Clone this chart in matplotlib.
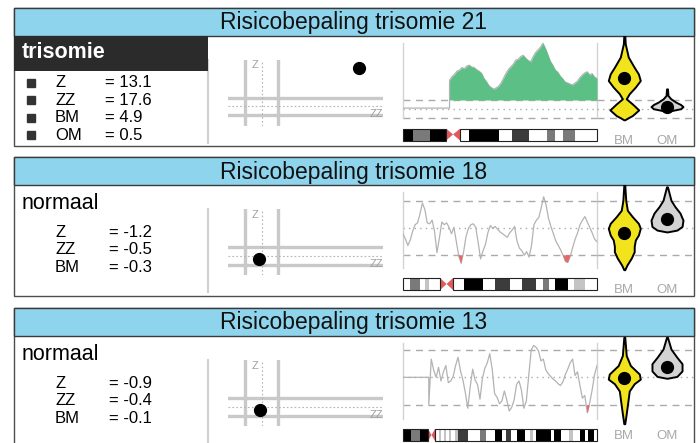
import numpy as np
import matplotlib
matplotlib.use("Agg")
import matplotlib.pyplot as plt
from matplotlib.patches import Rectangle, Polygon

plt.rcParams['font.family'] = ['Liberation Sans', 'DejaVu Sans']

W, H = 700, 443

# ---- data ----
TITLES = ["Risicobepaling trisomie 21", "Risicobepaling trisomie 18", "Risicobepaling trisomie 13"]
VERDICTS = ["trisomie", "normaal", "normaal"]
Z_SCORES = [13.1, -1.2, -0.9]
ZZ_SCORES = [17.6, -0.5, -0.4]
BM_SCORES = [4.9, -0.3, -0.1]
OM_SCORES = [0.5, None, None]

# normalised coverage trace per chromosome (position in % of chromosome)
T21_START, T21_FLAT = 24.0, 0.3
T21_VALUES = [9.6, 10.8, 11.5, 12.6, 12.9, 13.8, 13.4, 14.3, 14.6, 14.0, 13.8, 13.1,
              12.6, 11.9, 10.2, 9.1, 7.8, 7.1, 6.6, 7.0, 7.6, 8.7, 10.3, 11.9, 13.2,
              14.1, 15.0, 16.3, 16.6, 17.5, 17.9, 16.9, 16.2, 15.7, 17.4, 18.8, 19.7,
              20.6, 21.9, 20.2, 18.1, 15.9, 14.6, 13.0, 12.3, 11.0, 10.1, 9.0, 8.7,
              8.3, 8.0, 8.6, 9.2, 10.4, 11.3, 12.0, 12.4, 11.3, 11.8, 10.6, 10.2]
T18_START, T18_FLAT = 0.0, None
T18_VALUES = [-0.6, -1.2, -1.9, -1.3, -0.3, 0.4, 0.6, 1.6, 2.8, 2.1, 0.6, 0.5, 0.9,
              -0.3, -2.7, -1.1, 0.7, 0.4, 0.6, 0.1, -0.6, 0.1, -1.5, -3.1, -3.9, -2.6,
              -0.9, 0.0, 0.4, 0.5, 0.1, -1.6, -3.4, -2.5, -1.8, -0.5, 0.3, 0.0, 0.2,
              -0.1, -0.4, -0.6, -0.8, -1.0, -0.5, -0.2, 0.2, -1.4, -2.2, -2.5, -3.0,
              -2.6, -3.2, -1.9, 0.4, 0.9, 1.2, 2.3, 3.5, 2.6, 1.1, 0.2, -0.6, -1.4,
              -1.9, -2.4, -3.0, -3.7, -3.8, -3.1, -2.1, -1.2, -0.5, 0.4, 0.9, 1.3,
              0.7, 0.1, -0.5, -1.2, -1.5]
T13_START, T13_FLAT = 13.3, 0.0
T13_VALUES = [-3.0, 2.0, 0.8, 0.0, 1.1, -0.4, 0.6, 1.3, -0.6, -0.4, 0.1, 1.3, 2.2,
              0.7, -0.3, -1.7, -3.4, -1.0, 0.9, -0.3, -0.8, -2.4, -0.1, 1.0, 1.6, 2.6,
              0.9, -1.8, -2.2, -2.9, -2.6, -1.5, -2.5, -3.7, -3.3, -2.5, -0.8, -0.4,
              -1.4, -3.4, -2.6, 0.2, 3.0, 3.5, 3.3, 2.9, 1.8, 2.0, 0.8, 0.4, 0.1,
              -0.2, -0.4, -0.7, -0.9, -0.5, 0.3, 0.9, 1.6, 2.0, 0.2, 0.6, -0.9, -2.3,
              -2.0, -3.9, -2.8, -1.4, 0.3, 1.3]
# regions called as gain (green) or loss (red)
T21_GAINED, T21_LOST = [(24, 100)], []
T18_GAINED, T18_LOST = [], [(27, 33), (82, 88)]
T13_GAINED, T13_LOST = [], [(93, 97)]

# ideogram bands (edges in % of chromosome, stain per band)
IDEO21_EDGES = [0, 5.2, 13.9, 22.2, 29.4, 34, 49.5, 56.2, 65, 74.2, 78.4, 82.5, 88.7, 100]
IDEO21_STAIN = ["gpos100", "gpos50", "gpos100", "acen", "gneg", "gpos100", "gneg",
                "gpos75", "gneg", "gpos50", "gneg", "gpos50", "gneg"]
IDEO18_EDGES = [0, 3.6, 8.8, 11.3, 13.4, 19.1, 25.8, 31.4, 41.2, 47.4, 55.2, 61.3,
                68.6, 72.2, 75.3, 78.4, 85.1, 88.1, 93.8, 100]
IDEO18_STAIN = ["gneg", "gpos50", "gneg", "gpos25", "gneg", "acen", "gneg", "gpos100",
                "gneg", "gpos75", "gneg", "gpos75", "gneg", "gpos50", "gneg", "gpos100",
                "gneg", "gpos25", "gneg"]
IDEO13_EDGES = [0, 4.1, 8.8, 12.9, 16.5, 18.6, 19.6, 21.1, 22.2, 23.7, 24.7, 26.8, 28.4,
                33.5, 39.7, 42.8, 47.4, 51, 53.1, 55.7, 58.8, 62.9, 65.5, 67, 68.6,
                76.3, 77.8, 81.4, 85.6, 87.6, 91.2, 93.8, 95.4, 98.5, 100]
IDEO13_STAIN = ["gpos100", "gpos50", "gpos100", "acen", "gneg", "gpos25", "gneg",
                "gpos25", "gneg", "gpos25", "gneg", "gpos25", "gpos75", "gneg",
                "gpos50", "gneg", "gpos100", "gneg", "gpos75", "gneg", "gpos100",
                "gneg", "gpos25", "gneg", "gpos100", "gneg", "gpos100", "gneg",
                "gpos25", "gneg", "gpos100", "gneg", "gpos100", "gneg"]

# violin outlines: levels (trace units) and relative density
BM21_LEVELS = [24.5, 21.7, 17.3, 13.9, 11.7, 9.5, 7.3, 5.1, 3.4, 1.7, -0.3, -2.2, -2.9, -3.6]
BM21_DENSITY = [0.03, 0.06, 0.25, 0.62, 0.88, 1.0, 0.69, 0.31, 0.12, 0.5, 0.9, 0.5, 0.25, 0.03]
OM21_LEVELS = [6.7, 4.5, 3.4, 2.3, 1.5, 0.8, 0.1, -0.5, -0.8]
OM21_DENSITY = [0.03, 0.06, 0.24, 0.55, 0.85, 1.0, 0.85, 0.3, 0.03]
BM18_LEVELS = [4.8, 3.1, 2.0, 1.3, 0.55, 0.0, -0.75, -1.3, -2.0, -2.6, -3.3, -4.1, -4.6]
BM18_DENSITY = [0.03, 0.09, 0.19, 0.5, 0.88, 1.0, 0.88, 0.69, 0.62, 0.62, 0.44, 0.16, 0.03]
OM18_LEVELS = [4.6, 3.1, 2.4, 1.7, 0.9, 0.2, -0.2, -0.4]
OM18_DENSITY = [0.03, 0.25, 0.5, 0.81, 1.0, 0.94, 0.62, 0.03]
BM13_LEVELS = [4.4, 2.4, 1.3, 0.36, -0.2, -0.7, -1.5, -2.7, -4.0, -5.1]
BM13_DENSITY = [0.03, 0.12, 0.38, 0.94, 1.0, 0.62, 0.31, 0.22, 0.12, 0.03]
OM13_LEVELS = [4.4, 3.1, 2.2, 1.5, 0.7, 0.1, -0.1]
OM13_DENSITY = [0.03, 0.25, 0.62, 0.94, 0.94, 0.62, 0.03]
BM_DOT = [10.2, -0.5, -0.1]
OM_DOT = [0.8, 1.0, 1.1]

# ---- layout (pixels) ----
PANEL_TOPS = [7.5, 157, 308]
PANEL_BOTTOMS = [146, 296, 470]
BAR_H = 28
TRACE_YLIM = [(-5.5, 24.5), (-5.19, 4.81), (-5.35, 4.54)]

STAIN_COLORS = {"gneg": "white", "gpos25": "#c4c4c4", "gpos50": "#7a7a7a",
                "gpos75": "#3c3c3c", "gpos100": "black"}

fig = plt.figure(figsize=(W / 100, H / 100), dpi=100)
bg = fig.add_axes([0, 0, 1, 1])
bg.set_xlim(0, W)
bg.set_ylim(H, 0)
bg.axis('off')


def px_axes(x0, y0, x1, y1, **kw):
    ax = fig.add_axes([x0 / W, 1 - y1 / H, (x1 - x0) / W, (y1 - y0) / H], **kw)
    ax.patch.set_alpha(0)
    ax.axis('off')
    return ax


def region_mask(pos, regions):
    mask = np.zeros(len(pos), dtype=bool)
    for a, b in regions:
        mask |= (pos >= a) & (pos <= b)
    return mask


def draw_trace(ax, start, flat, values, gained, lost):
    vals = np.array(values)
    pos = np.linspace(start, 100, len(vals))
    if flat is not None:
        pos = np.concatenate([[0, start], pos])
        vals = np.concatenate([[flat, flat], vals])
    ax.plot(pos, vals, color='#b3b3b3', lw=0.9, zorder=3)
    ax.fill_between(pos, 3, vals, where=region_mask(pos, gained) & (vals > 3),
                    interpolate=True, color='#5cbf85', lw=0, zorder=4)
    ax.fill_between(pos, -3, vals, where=region_mask(pos, lost) & (vals < -3),
                    interpolate=True, color='#e26a6a', lw=0, zorder=4)


def draw_ideogram(ax, edges, stains):
    ax.set_xlim(0, 100)
    ax.set_ylim(0, 1)
    cen = None
    for x0, x1, st in zip(edges[:-1], edges[1:], stains):
        if st == "acen":
            cen = (x0, x1)
            continue
        ax.add_patch(Rectangle((x0, 0), x1 - x0, 1, fc=STAIN_COLORS[st], ec='none'))
    c0, c1 = cen
    cm = (c0 + c1) / 2
    ax.add_patch(Polygon([(c0, 0), (c0, 1), (cm, 0.5)], fc='#e05a5a', ec='none'))
    ax.add_patch(Polygon([(c1, 0), (c1, 1), (cm, 0.5)], fc='#e05a5a', ec='none'))
    ax.add_patch(Rectangle((0, 0), c0, 1, fill=False, ec='#222222', lw=0.8, clip_on=False))
    ax.add_patch(Rectangle((c1, 0), 100 - c1, 1, fill=False, ec='#222222', lw=0.8, clip_on=False))


def draw_violin(ax, centre, levels, density, dot, face):
    y = np.array(levels)
    hw = np.array(density) * 16
    ax.fill_betweenx(y, centre - hw, centre + hw, facecolor=face, edgecolor='black',
                     lw=1.4, zorder=5)
    ax.plot(centre, dot, 'o', color='black', ms=8.5, zorder=6)


traces = [(T21_START, T21_FLAT, T21_VALUES, T21_GAINED, T21_LOST),
          (T18_START, T18_FLAT, T18_VALUES, T18_GAINED, T18_LOST),
          (T13_START, T13_FLAT, T13_VALUES, T13_GAINED, T13_LOST)]
ideos = [(IDEO21_EDGES, IDEO21_STAIN), (IDEO18_EDGES, IDEO18_STAIN), (IDEO13_EDGES, IDEO13_STAIN)]
violins = [((BM21_LEVELS, BM21_DENSITY), (OM21_LEVELS, OM21_DENSITY)),
           ((BM18_LEVELS, BM18_DENSITY), (OM18_LEVELS, OM18_DENSITY)),
           ((BM13_LEVELS, BM13_DENSITY), (OM13_LEVELS, OM13_DENSITY))]

for i in range(3):
    top = PANEL_TOPS[i]
    b = top + BAR_H
    bg.add_patch(Rectangle((14, top), 680, PANEL_BOTTOMS[i] - top, fc='white',
                           ec='#4d4d4d', lw=1, zorder=1))
    bg.add_patch(Rectangle((14, top), 680, BAR_H, fc='#8ed4ec', ec='#3a3a3a', lw=1, zorder=2))
    bg.text(354, top + BAR_H / 2 + 1, TITLES[i], ha='center', va='center',
            fontsize=16.5, color='#111111', zorder=3)

    # separator between text block and Z/ZZ plot
    bg.plot([208, 208], [b + 24, b + 107], color='#d0d0d0', lw=1.5, zorder=2)

    # verdict and scores
    if VERDICTS[i] == "trisomie":
        bg.add_patch(Rectangle((14, b), 194, 35, fc='#2b2b2b', ec='none', zorder=3))
        bg.text(22, b + 17, VERDICTS[i], color='white', fontsize=15.5, fontweight='bold',
                va='center', ha='left', zorder=4)
        val_x = 105
    else:
        bg.text(22, b + 18, VERDICTS[i], color='black', fontsize=15.5,
                va='center', ha='left', zorder=4)
        val_x = 109
    names = ["Z", "ZZ", "BM", "OM"]
    scores = [Z_SCORES[i], ZZ_SCORES[i], BM_SCORES[i], OM_SCORES[i]]
    k = 0
    for name, val in zip(names, scores):
        if val is None:
            continue
        y = b + 47 + 17.6 * k
        if VERDICTS[i] == "trisomie":
            bg.plot(30.5, y, 's', color='#333333', ms=6, zorder=4)
        bg.text(55, y, name, fontsize=12, va='center', ha='left', zorder=4)
        bg.text(val_x, y, f"= {val:.1f}", fontsize=12, va='center', ha='left', zorder=4)
        k += 1

    # Z vs ZZ plot
    sc = px_axes(228, b + 24, 383, b + 90)
    sc.set_xlim(-6.18, 22.0)
    sc.set_ylim(-6.55, 16.2)
    for v in (-3, 3):
        sc.axvline(v, color='#c9c9c9', lw=2.4)
        sc.axhline(v, color='#c9c9c9', lw=2.4)
    sc.axvline(0, color='#b5b5b5', lw=0.8, ls=(0, (1.5, 2)))
    sc.axhline(0, color='#b5b5b5', lw=0.8, ls=(0, (1.5, 2)))
    sc.text(0.155, 0.985, "Z", transform=sc.transAxes, fontsize=8, color='#a0a0a0',
            ha='left', va='top')
    sc.text(1.0, 0.17, "ZZ", transform=sc.transAxes, fontsize=8, color='#a0a0a0',
            ha='right', va='center')
    sc.plot(ZZ_SCORES[i], Z_SCORES[i], 'o', color='black', ms=8.5, clip_on=False)

    # coverage trace
    tr = px_axes(403, b, 597, b + 90)
    tr.set_xlim(0, 100)
    tr.set_ylim(*TRACE_YLIM[i])
    for v in (-3, 3):
        tr.axhline(v, color='#aaaaaa', lw=1, ls=(0, (5, 4)), zorder=1)
    tr.axhline(0, color='#aaaaaa', lw=1, ls=(0, (1, 3)), zorder=1)
    for x in (0, 100):
        tr.axvline(x, ymin=0.078, ymax=0.922, color='#d2d2d2', lw=1, clip_on=False)
    draw_trace(tr, *traces[i])

    # violins
    vi = px_axes(597, b, 694, b + 90, sharey=tr)
    vi.set_xlim(0, 97)
    vi.set_ylim(*TRACE_YLIM[i])
    for v in (-3, 3):
        vi.axhline(v, color='#aaaaaa', lw=1, ls=(0, (5, 4)), zorder=1)
    vi.axhline(0, color='#aaaaaa', lw=1, ls=(0, (1, 3)), zorder=1)
    (bm_l, bm_d), (om_l, om_d) = violins[i]
    draw_violin(vi, 27.3, bm_l, bm_d, BM_DOT[i], '#f2e41c')
    draw_violin(vi, 70, om_l, om_d, OM_DOT[i], '#d3d3d3')
    lab_y = min(b + 105, H - 7)
    bg.text(624, lab_y, "BM", fontsize=9.5, color='#a8a8a8', ha='center', va='center', zorder=4)
    bg.text(667, lab_y, "OM", fontsize=9.5, color='#a8a8a8', ha='center', va='center', zorder=4)

    # chromosome ideogram
    ig = px_axes(403, b + 93, 597, b + 105)
    draw_ideogram(ig, *ideos[i])

fig.savefig("out.png", dpi=100)
